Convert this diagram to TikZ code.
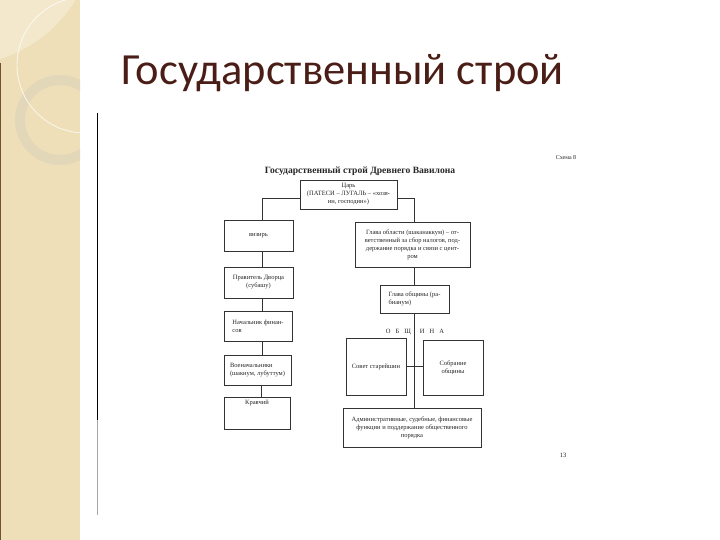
\documentclass[tikz,border=0pt]{standalone}
\usepackage{fontspec}
\setmainfont{Liberation Serif}
\newfontfamily\slidefont{Carlito}
\usetikzlibrary{positioning}
\definecolor{StripBeige}{RGB}{238,223,184}
\definecolor{StripLight}{RGB}{243,232,203}
\definecolor{RingBeige}{RGB}{226,215,184}
\definecolor{TitleBrown}{RGB}{74,30,22}
\definecolor{EdgeBrown}{RGB}{112,82,50}

\begin{document}
\begin{tikzpicture}[x=1pt, y=-1pt,
  box/.style={draw=black!80, line width=0.6pt, inner sep=1.5pt, text=black!85,
    font=\fontsize{6.5}{8}\selectfont, align=center},
  conn/.style={draw=black!80, line width=0.6pt}]
  \useasboundingbox (0,0) rectangle (720,540);

  % Side strip
  \fill[StripBeige] (0,0) rectangle (80,540);
  \begin{scope}
    \clip (0,0) rectangle (80,540);
    \fill[StripLight] (-40,-70) circle (135);
    \draw[RingBeige, line width=10pt] (60,120) circle (40);
    \draw[white, line width=0.9pt, opacity=0.7] (85,65) circle (68);
  \end{scope}
  \draw[EdgeBrown, line width=1.2pt] (0.6,63) -- (0.6,540);

  % Slide title
  \node[anchor=base west, text=TitleBrown, font=\slidefont\fontsize{44.5}{52}\selectfont]
    (heading) at (118,85) {Государственный строй};

  % Scanned page edge
  \draw[black, line width=1pt] (97,113) -- (97,420);
  \draw[black!35, line width=0.8pt] (97,420) -- (97,515);

  % Page header
  \node[font=\fontsize{6}{7}\selectfont, text=black!85] (scheme) at (566,158) {Схема 8};
  \node[font=\bfseries\fontsize{9.6}{11}\selectfont, text=black!85] (chart) at (360,171)
    {Государственный строй Древнего Вавилона};

  % King
  \node[box, minimum width=97pt, minimum height=29pt] (tsar) at (348.5,194.5)
    {Царь\\(ПАТЕСИ – ЛУГАЛЬ – «хозя-\\ин, господин»)};

  % Palace officials
  \node[box, minimum width=69pt, minimum height=31pt] (vizir) at (258.5,235.5) {визирь};
  \node[box, minimum width=69pt, minimum height=31pt] (palace) at (258.5,282.5)
    {Правитель Дворца\\(субашу)};
  \node[box, align=left, minimum width=68pt, minimum height=30pt] (fin) at (258,326)
    {Начальник финан-\\сов};
  \node[box, align=left, minimum width=67pt, minimum height=30pt] (army) at (257.5,370)
    {Военачальники\\(шакнум, лубуттум)};
  \node[box, minimum width=66pt, minimum height=32pt] (krav) at (257,413)
    {Кравчий\\[13pt]~};

  % Province and community
  \node[box, minimum width=115pt, minimum height=45pt] (obl) at (412.5,244.5)
    {Глава области (шаканаккум) – от-\\ветственный за сбор налогов, под-\\держание порядка и связи с цент-\\ром};
  \node[box, align=left, minimum width=69pt, minimum height=28pt] (obsh) at (414.5,299)
    {Глава общины (ра-\\бианум)};
  \node[font=\fontsize{6.5}{8}\selectfont, text=black!85] (obshlabel) at (415,332)
    {О\hspace{5pt}Б\hspace{5pt}Щ\hspace{9pt}И\hspace{5pt}Н\hspace{5pt}А};
  \node[box, minimum width=60pt, minimum height=57pt] (sovet) at (376,366.5)
    {Совет старейшин};
  \node[box, minimum width=60pt, minimum height=55pt] (sobr) at (453,367.5)
    {Собрание\\общины};
  \node[box, minimum width=138pt, minimum height=39pt] (adm) at (412,427.5)
    {Административные, судебные, финансовые\\функции и поддержание общественного\\порядка};

  \node[font=\fontsize{6.5}{7}\selectfont, text=black!85] (pagenum) at (563,455) {13};

  % Connectors
  \draw[conn] ([yshift=-4pt]tsar.west) -| ([xshift=4pt]vizir.north);
  \draw[conn] ([yshift=-4pt]tsar.east) -| ([xshift=2pt]obl.north);
  \foreach \a/\b in {vizir/palace, palace/fin, fin/army, army/krav}
    \draw[conn] ([xshift=4pt]\a.south) -- ([xshift=4pt]\a.south |- \b.north);
  \draw[conn] (obsh.north |- obl.south) -- (obsh.north);
  \draw[conn] (obsh.south) -- (obsh.south |- adm.north);
  \draw[conn] (sovet.east) -- (sovet.east -| sobr.west);
\end{tikzpicture}
\end{document}
